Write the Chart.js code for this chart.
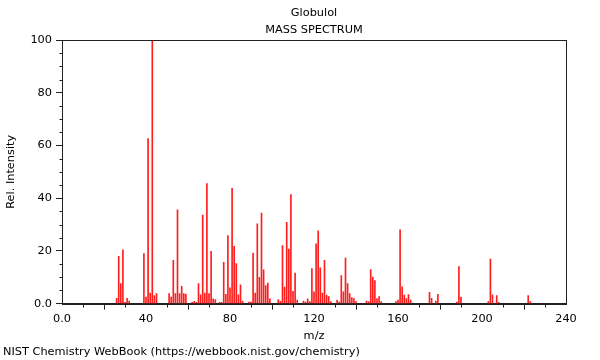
<!DOCTYPE html>
<html>
<head>
<meta charset="utf-8">
<script src="https://cdn.jsdelivr.net/npm/chart.js@4/dist/chart.umd.min.js"></script>
<style>
  html, body { margin: 0; padding: 0; background: #fff; }
  #wrap { width: 600px; height: 360px; }
</style>
</head>
<body>
<div id="wrap"><canvas id="c" width="600" height="360"></canvas></div>
<script>
// ---- data (m/z and relative intensity) ----
const mz = [
  26, 27, 28, 29, 30, 31, 32,
  39, 40, 41, 42, 43, 44, 45,
  51, 52, 53, 54, 55, 56, 57, 58, 59,
  62, 63, 64, 65, 66, 67, 68, 69, 70, 71, 72, 73,
  75, 76, 77, 78, 79, 80, 81, 82, 83, 84, 85, 86,
  89, 90, 91, 92, 93, 94, 95, 96, 97, 98, 99,
  103, 104, 105, 106, 107, 108, 109, 110, 111, 112,
  115, 116, 117, 118, 119, 120, 121, 122, 123, 124, 125, 126, 127, 128,
  131, 132, 133, 134, 135, 136, 137, 138, 139, 140,
  145, 146, 147, 148, 149, 150, 151, 152,
  159, 160, 161, 162, 163, 164, 165, 166,
  175, 176, 178, 179,
  188, 189, 190,
  203, 204, 205, 207, 208,
  222, 223
];
const intensity = [
  2.0, 17.9, 7.6, 20.4, 0.5, 2.0, 1.0,
  19.0, 2.5, 62.6, 4.0, 100, 3.0, 3.8,
  3.8, 2.5, 16.4, 3.8, 35.6, 3.8, 6.6, 3.8, 3.5,
  0.5, 0.9, 0.5, 7.6, 3.3, 33.6, 4.0, 45.5, 3.8, 19.8, 1.8, 1.5,
  0.5, 0.5, 15.7, 3.5, 25.8, 6.0, 43.7, 21.7, 15.2, 3.3, 7.1, 1.0,
  0.6, 0.6, 19.2, 4.0, 30.3, 10.0, 34.3, 12.8, 6.8, 7.8, 1.8,
  1.5, 0.9, 22.0, 6.3, 30.8, 20.7, 41.4, 4.7, 11.6, 1.3,
  1.0, 0.6, 1.8, 0.8, 13.3, 4.5, 22.7, 27.6, 13.6, 4.0, 16.4, 3.2, 2.7, 0.8,
  1.3, 0.6, 10.6, 4.5, 17.3, 7.6, 3.8, 2.3, 1.9, 0.8,
  1.0, 0.8, 12.9, 10.1, 8.7, 1.9, 2.7, 0.8,
  0.8, 1.3, 28.0, 6.4, 3.2, 1.9, 3.4, 1.3,
  4.3, 2.0, 1.0, 3.5,
  0.6, 14.0, 2.5,
  0.8, 16.9, 3.3, 3.0, 0.5,
  3.0, 0.8
];
const titleLines = ["Globulol", "MASS SPECTRUM"];
const footerText = "NIST Chemistry WebBook (https://webbook.nist.gov/chemistry)";
const xTitle = "m/z";
const yTitle = "Rel. Intensity";
const xMajorTicks = [0, 40, 80, 120, 160, 200, 240];
const yMajorTicks = [0, 20, 40, 60, 80, 100];

const FONT = "'DejaVu Sans', sans-serif";
const FS = 11.33;

// minor ticks + frame plugin (positions from the library's scales)
const framePlugin = {
  id: 'frame',
  afterDraw(chart) {
    const ctx = chart.ctx;
    const a = chart.chartArea;
    const xs = chart.scales.x, ys = chart.scales.y;
    ctx.save();
    ctx.strokeStyle = '#222';
    ctx.lineWidth = 1;
    ctx.strokeRect(Math.round(a.left) + 0.5, Math.round(a.top) + 0.5,
                   Math.round(a.right - a.left), Math.round(a.bottom - a.top));
    ctx.beginPath();
    for (let v = xs.min; v <= xs.max; v += 10) {
      if (v % 40 === 0) continue;
      const px = Math.round(xs.getPixelForValue(v)) + 0.5;
      ctx.moveTo(px, Math.round(a.bottom) + 0.5);
      ctx.lineTo(px, Math.round(a.bottom) + 3.5);
    }
    for (let v = ys.min; v <= ys.max; v += 5) {
      if (v % 20 === 0) continue;
      const py = Math.round(ys.getPixelForValue(v)) + 0.5;
      ctx.moveTo(Math.round(a.left) + 0.5, py);
      ctx.lineTo(Math.round(a.left) - 2.5, py);
    }
    ctx.stroke();
    ctx.restore();
  }
};

new Chart(document.getElementById('c'), {
  type: 'bar',
  data: {
    datasets: [{
      data: mz.map((m, i) => ({ x: m, y: intensity[i] })),
      backgroundColor: 'rgb(255,30,30)',
      borderWidth: 0,
      barThickness: 1,
      grouped: false
    }]
  },
  options: {
    responsive: false,
    animation: false,
    devicePixelRatio: 1,
    layout: { padding: { left: 3, right: 34, top: 0, bottom: 0 } },
    plugins: {
      legend: { display: false },
      tooltip: { enabled: false },
      title: {
        display: true,
        text: titleLines,
        fullSize: false,
        color: '#000',
        font: { family: FONT, size: FS, weight: 'normal', lineHeight: '17px' },
        padding: { top: 4.5, bottom: 1.5 }
      },
      subtitle: {
        display: true,
        text: footerText,
        position: 'bottom',
        align: 'start',
        fullSize: true,
        color: '#000',
        font: { family: FONT, size: FS, weight: 'normal', lineHeight: 1.2 },
        padding: { top: 2, bottom: 1.4 }
      }
    },
    scales: {
      x: {
        type: 'linear',
        min: 0, max: 240,
        offset: false,
        afterBuildTicks(scale) { scale.ticks = xMajorTicks.map(v => ({ value: v })); },
        afterFit(scale) { scale.height = 39.4; },
        ticks: {
          color: '#000',
          font: { family: FONT, size: FS },
          padding: 3,
          maxRotation: 0,
          autoSkip: false,
          callback: v => (v === 0 ? '0.0' : String(v))
        },
        grid: { display: true, drawOnChartArea: false, drawTicks: true, tickLength: 6, tickColor: '#222', color: '#222' },
        border: { display: true, color: '#222' },
        title: {
          display: true, text: xTitle, color: '#000',
          font: { family: FONT, size: FS },
          padding: { top: 3, bottom: 0 }
        }
      },
      y: {
        type: 'linear',
        min: 0, max: 100,
        afterBuildTicks(scale) { scale.ticks = yMajorTicks.map(v => ({ value: v })); },
        afterFit(scale) { scale.width = 59; },
        ticks: {
          color: '#000',
          font: { family: FONT, size: FS },
          padding: 4,
          autoSkip: false,
          callback: v => (v === 0 ? '0.0' : String(v))
        },
        grid: { display: true, drawOnChartArea: false, drawTicks: true, tickLength: 6, tickColor: '#222', color: '#222' },
        border: { display: true, color: '#222' },
        title: {
          display: true, text: yTitle, color: '#000',
          font: { family: FONT, size: FS },
          padding: { top: 1, bottom: 0 }
        }
      }
    }
  },
  plugins: [framePlugin]
});
</script>
</body>
</html>
